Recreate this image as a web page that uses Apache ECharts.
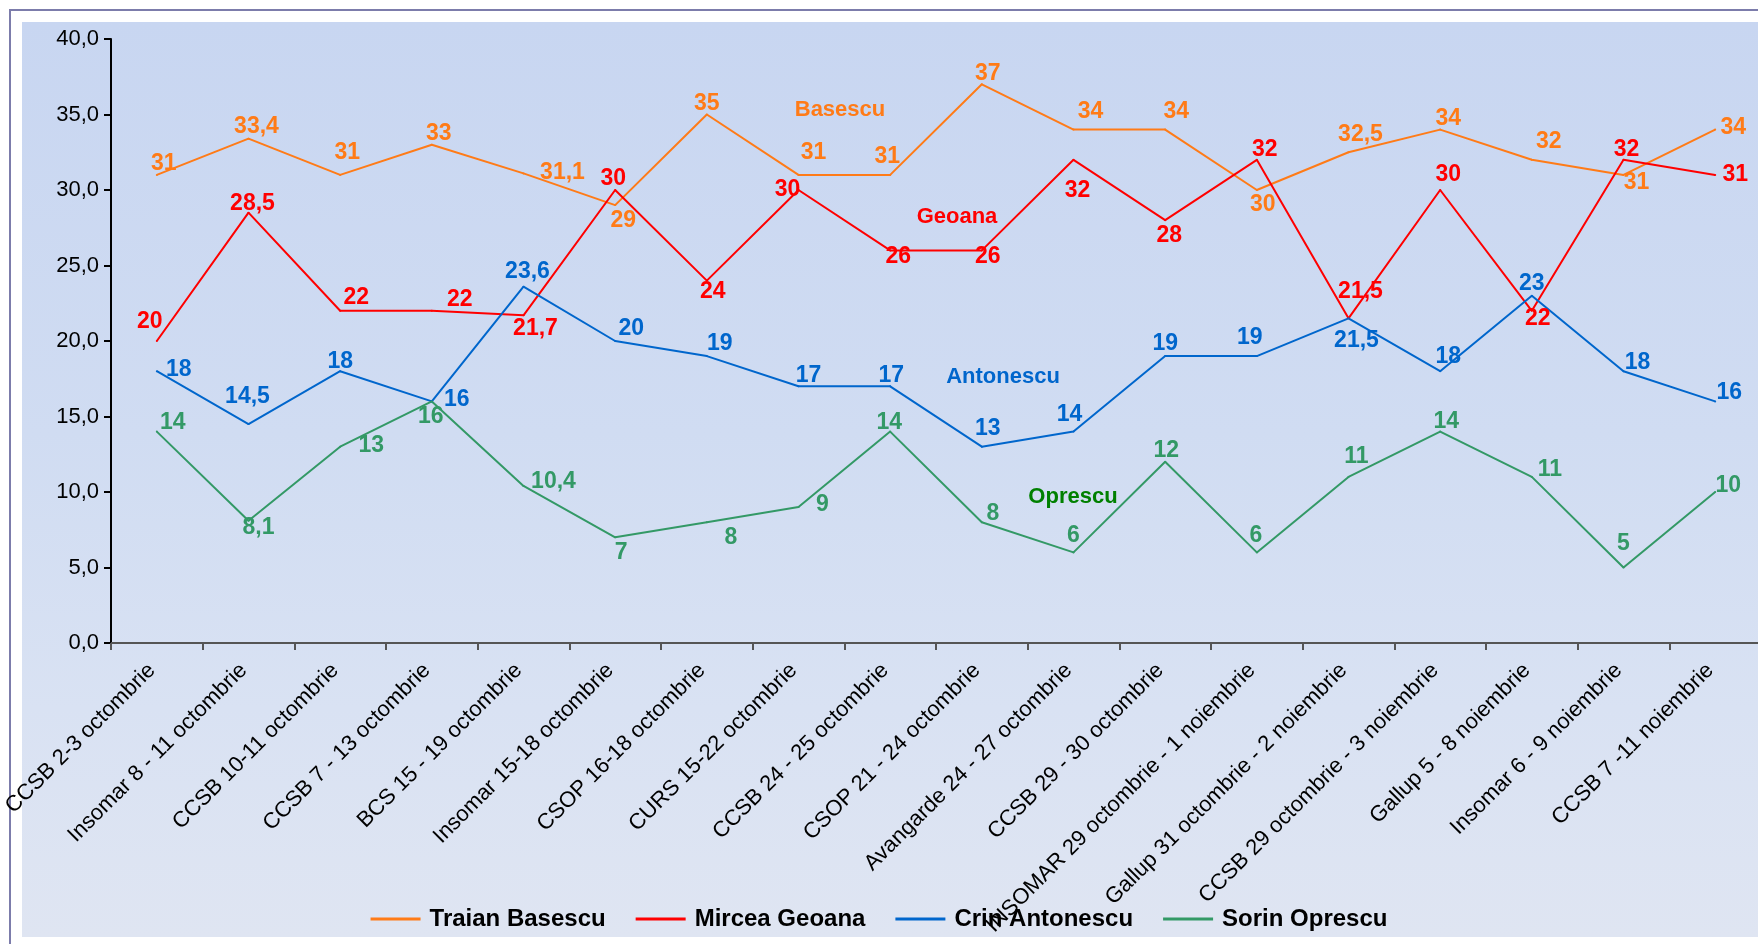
<!DOCTYPE html>
<html>
<head>
<meta charset="utf-8">
<script src="https://cdn.jsdelivr.net/npm/echarts@6/dist/echarts.min.js"></script>
<style>
  html, body { margin: 0; padding: 0; background: #fff; }
  #chart { width: 1758px; height: 944px; }
</style>
</head>
<body>
<div id="chart"></div>
<script>
// poll names (x axis)
const polls = [
    'CCSB 2-3 octombrie',
    'Insomar 8 - 11 octombrie',
    'CCSB 10-11 octombrie',
    'CCSB 7 - 13 octombrie',
    'BCS 15 - 19 octombrie',
    'Insomar 15-18 octombrie',
    'CSOP 16-18 octombrie',
    'CURS 15-22 octombrie',
    'CCSB 24 - 25 octombrie',
    'CSOP 21 - 24 octombrie',
    'Avangarde 24 - 27 octombrie',
    'CCSB 29 - 30 octombrie',
    'INSOMAR 29 octombrie - 1 noiembrie',
    'Gallup 31 octombrie - 2 noiembrie',
    'CCSB 29 octombrie - 3 noiembrie',
    'Gallup 5 - 8 noiembrie',
    'Insomar 6 - 9 noiembrie',
    'CCSB 7 -11 noiembrie',
]

const basescu = [31, 33.4, 31, 33, 31.1, 29, 35, 31, 31, 37, 34, 34, 30, 32.5, 34, 32, 31, 34]
const geoana = [20, 28.5, 22, 22, 21.7, 30, 24, 30, 26, 26, 32, 28, 32, 21.5, 30, 22, 32, 31]
const antonescu = [18, 14.5, 18, 16, 23.6, 20, 19, 17, 17, 13, 14, 19, 19, 21.5, 18, 23, 18, 16]
const oprescu = [14, 8.1, 13, 16, 10.4, 7, 8, 9, 14, 8, 6, 12, 6, 11, 14, 11, 5, 10]

const yTicks = [0, 5, 10, 15, 20, 25, 30, 35, 40]

// where each value label sits relative to its point (px)
const basescuOffsets = [[7,-11],[8,-12],[7,-22],[7,-11],[39,-1],[8,16],[0,-11],[15,-22],[-3,-18],[6,-11],[17,-18],[11,-18],[6,15],[12,-18],[8,-11],[17,-18],[13,8],[18,-2]]
const geoanaOffsets = [[-7,-19],[4,-9],[16,-13],[28,-11],[12,13],[-2,-11],[6,11],[-11,0],[8,6],[6,6],[4,31],[4,15],[8,-10],[12,-27],[8,-15],[6,8],[3,-10],[20,0]]
const antonescuOffsets = [[22,-2],[-1,-27],[0,-10],[25,-2],[4,-15],[16,-12],[13,-12],[10,-11],[1,-11],[6,-18],[-4,-17],[0,-12],[-7,-18],[8,22],[8,-15],[0,-12],[14,-9],[14,-9]]
const oprescuOffsets = [[16,-9],[10,7],[31,-1],[-1,15],[30,-4],[6,15],[24,15],[24,-2],[-1,-9],[11,-9],[0,-17],[1,-11],[-1,-17],[8,-20],[6,-10],[18,-7],[0,-24],[13,-6]]

const colors = {
    basescu: '#ff7b17',
    geoana: '#ff0000',
    antonescu: '#0066cc',
    oprescu: '#339966',
    oprescuName: '#008000',
}

const fmt = (v) => String(v).replace('.', ',')

function buildSeries(name, values, offsets, color) {
    return {
        name,
        type: 'line',
        data: values.map((v, i) => ({
            value: v,
            label: { offset: offsets[i] },
        })),
        symbol: 'circle',
        symbolSize: 2,
        showSymbol: true,
        itemStyle: { color },
        lineStyle: { color, width: 2 },
        label: {
            show: true,
            position: 'inside',
            align: 'center',
            verticalAlign: 'middle',
            color,
            fontFamily: 'Liberation Sans, Arial, sans-serif',
            fontWeight: 'bold',
            fontSize: 23,
            formatter: (p) => fmt(p.value),
        },
        emphasis: { disabled: true },
        z: 3,
    }
}

function nameText(text, x, y, color) {
    return {
        type: 'text',
        x,
        y,
        z: 10,
        style: {
            text,
            fill: color,
            font: 'bold 22px "Liberation Sans", Arial, sans-serif',
            align: 'center',
            verticalAlign: 'middle',
        },
    }
}

const chart = echarts.init(document.getElementById('chart'))

chart.setOption({
    animation: false,
    backgroundColor: '#ffffff',
    graphic: [
        {
            type: 'rect',
            z: -10,
            shape: { x: 22, y: 22, width: 1736, height: 915 },
            style: {
                fill: new echarts.graphic.LinearGradient(0, 0, 0, 1, [
                    { offset: 0, color: '#c8d6f1' },
                    { offset: 0.45, color: '#d0dcf2' },
                    { offset: 0.75, color: '#d9e2f3' },
                    { offset: 1, color: '#dfe5f2' },
                ]),
            },
        },
        {
            type: 'polyline',
            z: -5,
            shape: { points: [[10, 944], [10, 10], [1758, 10]] },
            style: { stroke: '#7c7cab', lineWidth: 2, fill: null },
        },
        nameText('Basescu', 840, 110, colors.basescu),
        nameText('Geoana', 957, 217, colors.geoana),
        nameText('Antonescu', 1003, 377, colors.antonescu),
        nameText('Oprescu', 1073, 497, colors.oprescuName),
    ],
    legend: {
        left: 'center',
        top: 902,
        icon: 'rect',
        itemWidth: 50,
        itemHeight: 3,
        itemGap: 30,
        textStyle: {
            color: '#000',
            fontFamily: 'Liberation Sans, Arial, sans-serif',
            fontWeight: 'bold',
            fontSize: 24,
            padding: [0, 0, 0, 4],
        },
        data: ['Traian Basescu', 'Mircea Geoana', 'Crin Antonescu', 'Sorin Oprescu'],
    },
    grid: {
        left: 111,
        top: 39,
        width: 1650,
        height: 604,
        outerBoundsMode: 'none',
    },
    xAxis: {
        type: 'category',
        data: polls,
        boundaryGap: true,
        axisLine: { lineStyle: { color: '#555', width: 2 } },
        axisTick: { show: true, length: 7, lineStyle: { color: '#555', width: 2 } },
        axisLabel: {
            interval: 0,
            rotate: 45,
            margin: 19,
            padding: [0, 7, 0, 0],
            color: '#000',
            fontFamily: 'Liberation Sans, Arial, sans-serif',
            fontSize: 22,
        },
        splitLine: { show: false },
    },
    yAxis: {
        type: 'value',
        min: yTicks[0],
        max: yTicks[yTicks.length - 1],
        interval: yTicks[1] - yTicks[0],
        axisLine: { show: true, lineStyle: { color: '#000', width: 2 } },
        axisTick: { show: true, length: 7, lineStyle: { color: '#000', width: 2 } },
        axisLabel: {
            margin: 12,
            color: '#000',
            fontFamily: 'Liberation Sans, Arial, sans-serif',
            fontSize: 22,
            formatter: (v) => v.toFixed(1).replace('.', ','),
        },
        splitLine: { show: false },
    },
    series: [
        buildSeries('Traian Basescu', basescu, basescuOffsets, colors.basescu),
        buildSeries('Mircea Geoana', geoana, geoanaOffsets, colors.geoana),
        buildSeries('Crin Antonescu', antonescu, antonescuOffsets, colors.antonescu),
        buildSeries('Sorin Oprescu', oprescu, oprescuOffsets, colors.oprescu),
    ],
})
</script>
</body>
</html>
